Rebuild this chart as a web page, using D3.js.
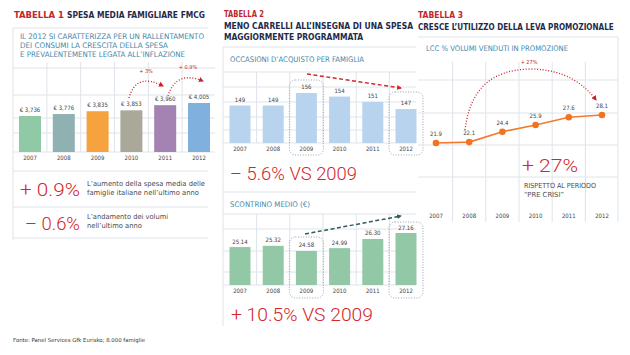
<!DOCTYPE html>
<html><head><meta charset="utf-8">
<script src="https://cdn.jsdelivr.net/npm/d3@7/dist/d3.min.js"></script>
<style>
body{margin:0;background:#fff;}
svg{display:block;}
.cond{font-family:"Liberation Sans Narrow","DejaVu Sans Condensed",sans-serif;}
.small{font-family:"Liberation Sans Narrow","DejaVu Sans Condensed",sans-serif;}
.big{font-family:"Roboto","DejaVu Sans",sans-serif;font-weight:300;}
</style></head>
<body>
<svg id="c" width="630" height="355"></svg>
<script>
// ---------- DATA ----------
const years = ["2007","2008","2009","2010","2011","2012"];
const spesaMedia = [3736, 3776, 3835, 3853, 3960, 4005];
const occasioni = [149, 149, 156, 154, 151, 147];
const scontrino = [25.14, 25.32, 24.58, 24.99, 26.30, 27.16];
const promozione = [21.9, 22.1, 24.4, 25.9, 27.6, 28.1];
const spesaColors = ["#90c9a6","#8fb1b1","#f6a23e","#a9a899","#a482b1","#7fb0de"];

const svg = d3.select("#c");
const RED_T = "#c1272d", NAVY = "#1e2a4a", TEAL = "#3f88aa", RED = "#d4262c", GRID = "#dfe4ea", TXT = "#4a4a4a";

function txt(x, y, s, opt) {
  const t = svg.append("text").attr("x", x).attr("y", y).text(s)
    .attr("class", opt.cls || "cond")
    .attr("font-size", opt.size || 8)
    .attr("fill", opt.fill || TXT)
    .attr("font-weight", opt.weight || "normal")
    .attr("text-anchor", opt.anchor || "start");
  if (opt.len) t.attr("textLength", opt.len).attr("lengthAdjust", "spacingAndGlyphs");
  if (opt.fit) {
    const w = t.node().getComputedTextLength();
    if (w > 0) t.attr("font-size", (opt.size || 8) * opt.fit / w);
  }
  return t;
}
function line(x1, y1, x2, y2, col, w, dash) {
  const l = svg.append("line").attr("x1", x1).attr("y1", y1).attr("x2", x2).attr("y2", y2)
    .attr("stroke", col || GRID).attr("stroke-width", w || 1);
  if (dash) l.attr("stroke-dasharray", dash);
  return l;
}
svg.append("defs").html(
 '<marker id="ar" viewBox="0 0 10 10" refX="8" refY="5" markerWidth="4" markerHeight="4" orient="auto"><path d="M0,0L10,5L0,10z" fill="#c8202a"/></marker>' +
 '<marker id="ar2" viewBox="0 0 10 10" refX="8" refY="5" markerWidth="3.2" markerHeight="3.2" orient="auto"><path d="M0,0L10,5L0,10z" fill="#d6262c"/></marker>' +
 '<marker id="ar3" viewBox="0 0 10 10" refX="8" refY="5" markerWidth="3.2" markerHeight="3.2" orient="auto"><path d="M0,0L10,5L0,10z" fill="#2f5a5c"/></marker>');

function midpoints(sc) {
  const p = years.map(sc);
  return p.slice(1).map((v, i) => (v + p[i]) / 2);
}

// ================= PANEL 1 =================
txt(14, 18, "TABELLA 1", {fill: RED_T, weight: "bold", size: 9.5, len: 50});
txt(67, 18, "SPESA MEDIA FAMIGLIARE FMCG", {fill: NAVY, weight: "bold", size: 9.5, len: 138});
line(13, 28, 208, 28);
line(13, 28, 13, 240);
txt(20, 38.5, "IL 2012 SI CARATTERIZZA PER UN RALLENTAMENTO", {fill: TEAL, size: 7.6, len: 184});
txt(20, 47.5, "DEI CONSUMI LA CRESCITA DELLA SPESA", {fill: TEAL, size: 7.6, len: 148});
txt(20, 56.5, "E PREVALENTEMENTE LEGATA ALL\u2019INFLAZIONE", {fill: TEAL, size: 7.6, len: 165});

const x1 = d3.scalePoint().domain(years).range([30, 199]);
const y1 = d3.scaleLinear().domain([2990, 4005]).range([152, 103]);
[68, 95, 118, 133].forEach(y => line(13, y, 215, y));
midpoints(x1).forEach(x => line(x, 62, x, 152));
line(13, 152, 215, 152);
svg.append("g").selectAll("rect").data(spesaMedia).join("rect")
  .attr("x", (d, i) => x1(years[i]) - 11).attr("width", 22)
  .attr("y", d => y1(d)).attr("height", d => y1.range()[0] - y1(d))
  .attr("fill", (d, i) => spesaColors[i]);
const f1 = d3.format(",");
spesaMedia.forEach((d, i) => txt(x1(years[i]), y1(d) - 4, "\u20ac " + f1(d), {cls: "small", size: 6, anchor: "middle", fill: "#444"}));
years.forEach(yr => txt(x1(yr), 160, yr, {cls: "small", size: 6, anchor: "middle", fill: "#444"}));

// dotted arcs
svg.append("path").attr("d", "M129,98 Q136,72 163,86").attr("fill", "none")
  .attr("stroke", "#c8202a").attr("stroke-width", 1.3).attr("stroke-dasharray", "1,1.8").attr("marker-end", "url(#ar)");
svg.append("path").attr("d", "M168,96 Q176,70 203,81").attr("fill", "none")
  .attr("stroke", "#c8202a").attr("stroke-width", 1.3).attr("stroke-dasharray", "1,1.8").attr("marker-end", "url(#ar)");
txt(146, 73, "+ 3%", {cls: "small", size: 5.5, anchor: "middle", fill: "#c8202a"});
txt(188, 69, "+ 0.9%", {cls: "small", size: 5.5, anchor: "middle", fill: "#c8202a"});

line(13, 171, 208, 171);
line(13, 207, 208, 207);
line(13, 238, 208, 238);
txt(20, 196, "+ 0.9%", {cls: "big", size: 19, fill: RED, len: 60});
txt(87, 186, "L\u2019aumento della spesa media delle", {cls: "small", size: 7, fill: TXT, len: 118});
txt(87, 195, "famiglie italiane nell\u2019ultimo anno", {cls: "small", size: 7, fill: TXT, len: 112});
txt(25, 230, "\u2013 0.6%", {cls: "big", size: 19, fill: RED, len: 55});
txt(87, 219, "L\u2019andamento dei volumi", {cls: "small", size: 7, fill: TXT, len: 81});
txt(87, 228, "nell\u2019ultimo anno", {cls: "small", size: 7, fill: TXT, len: 55});

// ================= PANEL 2 =================
txt(224, 17, "TABELLA 2", {fill: RED_T, weight: "bold", size: 9.5, len: 40});
txt(224, 28.5, "MENO CARRELLI ALL\u2019INSEGNA DI UNA SPESA", {fill: NAVY, weight: "bold", size: 9.5, len: 189});
txt(224, 39.5, "MAGGIORMENTE PROGRAMMATA", {fill: NAVY, weight: "bold", size: 9.5, len: 139});
line(223, 47, 416, 47);
line(223, 47, 223, 326);
txt(230, 62, "OCCASIONI D\u2019ACQUISTO PER FAMIGLIA", {fill: TEAL, size: 7.6, len: 134});

const x2 = d3.scalePoint().domain(years).range([240, 406]);
const y2a = d3.scaleLinear().domain([128, 156]).range([143, 93]);
[72, 87, 102, 117, 130].forEach(y => line(223, y, 416, y));
midpoints(x2).forEach(x => line(x, 72, x, 143));
line(223, 143, 416, 143);
svg.append("g").selectAll("rect").data(occasioni).join("rect")
  .attr("x", (d, i) => x2(years[i]) - 10.5).attr("width", 21)
  .attr("y", d => y2a(d)).attr("height", d => y2a.range()[0] - y2a(d))
  .attr("fill", "#b7d3ee");
occasioni.forEach((d, i) => txt(x2(years[i]), y2a(d) - 4, String(d), {cls: "small", size: 6, anchor: "middle", fill: "#444"}));
years.forEach(yr => txt(x2(yr), 151, yr, {cls: "small", size: 6, anchor: "middle", fill: "#444"}));
// highlight boxes
[["2009", 80], ["2012", 92]].forEach(([yr, top]) => {
  svg.append("rect").attr("x", x2(yr) - 17).attr("y", top).attr("width", 34).attr("height", 155 - top)
    .attr("rx", 6).attr("fill", "none").attr("stroke", "#8d98a6").attr("stroke-width", 0.9).attr("stroke-dasharray", "1,1.6");
});
line(307, 74, 401, 88, "#d6262c", 1.5, "4,2.5").attr("marker-end", "url(#ar2)");
txt(230, 180, "\u2013 5.6% VS 2009", {cls: "big", size: 19, fill: RED, len: 127});
line(223, 192, 416, 192);
txt(230, 207, "SCONTRINO MEDIO (\u20ac)", {fill: TEAL, size: 7.6, len: 80});

const y2b = d3.scaleLinear().domain([19.7, 27.16]).range([285, 233]);
[214, 229, 251, 272].forEach(y => line(223, y, 416, y));
midpoints(x2).forEach(x => line(x, 214, x, 285));
line(223, 285, 416, 285);
svg.append("g").selectAll("rect").data(scontrino).join("rect")
  .attr("x", (d, i) => x2(years[i]) - 10.5).attr("width", 21)
  .attr("y", d => y2b(d)).attr("height", d => y2b.range()[0] - y2b(d))
  .attr("fill", "#92c8a5");
const f2 = d3.format(".2f");
scontrino.forEach((d, i) => txt(x2(years[i]), y2b(d) - 3.5, f2(d), {cls: "small", size: 6, anchor: "middle", fill: "#444"}));
years.forEach(yr => txt(x2(yr), 293, yr, {cls: "small", size: 6, anchor: "middle", fill: "#444"}));
[["2009", 237], ["2012", 222]].forEach(([yr, top]) => {
  svg.append("rect").attr("x", x2(yr) - 17).attr("y", top).attr("width", 34).attr("height", 298 - top)
    .attr("rx", 6).attr("fill", "none").attr("stroke", "#8d98a6").attr("stroke-width", 0.9).attr("stroke-dasharray", "1,1.6");
});
line(305, 234, 401, 216, "#2f5a5c", 1.5, "4,2.5").attr("marker-end", "url(#ar3)");
txt(231, 321, "+ 10.5% VS 2009", {cls: "big", size: 19, fill: RED, len: 142});

// ================= PANEL 3 =================
txt(418, 18, "TABELLA 3", {fill: RED_T, weight: "bold", size: 9.5, len: 45});
txt(418, 29.5, "CRESCE L\u2019UTILIZZO DELLA LEVA PROMOZIONALE", {fill: NAVY, weight: "bold", size: 9, fit: 196});
line(418, 37, 618, 37);
line(618, 37, 618, 222);
txt(426, 51, "LCC % VOLUMI VENDUTI IN PROMOZIONE", {fill: TEAL, size: 7.6, len: 142});

const x3 = d3.scalePoint().domain(years).range([436, 602]);
const y3 = d3.scaleLinear().domain([21.9, 28.1]).range([143, 115]);
[80, 113, 145, 177].forEach(y => line(418, y, 618, y));
midpoints(x3).forEach(x => line(x, 62, x, 222));
years.forEach(yr => txt(x3(yr), 218, yr, {cls: "small", size: 6, anchor: "middle", fill: "#444"}));
svg.append("path").datum(promozione)
  .attr("d", d3.line().x((d, i) => x3(years[i])).y(d => y3(d)))
  .attr("fill", "none").attr("stroke", "#f47a2a").attr("stroke-width", 1.6);
svg.append("g").selectAll("circle").data(promozione).join("circle")
  .attr("cx", (d, i) => x3(years[i])).attr("cy", d => y3(d)).attr("r", 3.3).attr("fill", "#f4711f");
promozione.forEach((d, i) => txt(x3(years[i]), y3(d) - 7, d.toFixed(1), {cls: "small", size: 6, anchor: "middle", fill: "#444"}));
svg.append("path").attr("d", "M465,130 C470,90 490,70 530,69 C565,69 585,85 596,100").attr("fill", "none")
  .attr("stroke", "#c8202a").attr("stroke-width", 1.3).attr("stroke-dasharray", "1,1.8").attr("marker-end", "url(#ar)");
txt(529, 64, "+ 27%", {cls: "small", size: 5.5, anchor: "middle", fill: "#c8202a"});
txt(522, 172, "+ 27%", {cls: "big", size: 19, fill: RED, len: 56});
txt(524, 188, "RISPETTO AL PERIODO", {cls: "small", size: 7, fill: TXT, len: 72});
txt(524, 197, "\u201cPRE CRISI\u201d", {cls: "small", size: 7, fill: TXT, len: 40});

// footer
txt(13, 342, "Fonte: Panel Services Gfk Eurisko; 8.000 famiglie", {cls: "small", size: 5.5, fill: "#333", len: 132});
</script>
</body></html>
